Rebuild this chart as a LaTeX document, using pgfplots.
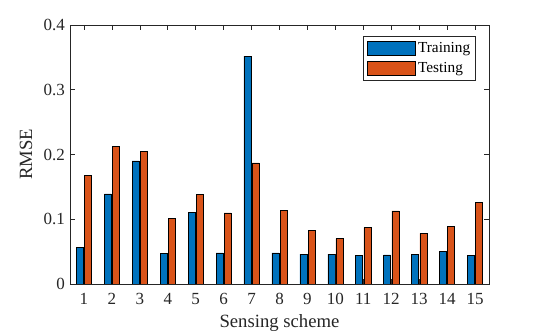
\documentclass[border=0pt]{standalone}
\usepackage{pgfplots}
\pgfplotsset{compat=1.18}
\usepackage{fontspec}
\setmainfont{Liberation Serif}

\definecolor{mblue}{rgb}{0,0.447,0.741}
\definecolor{morange}{rgb}{0.85,0.325,0.098}
\definecolor{axgray}{rgb}{0.15,0.15,0.15}

\pgfplotstableread{
scheme train  test
1   0.057  0.168
2   0.139  0.213
3   0.190  0.205
4   0.047  0.101
5   0.111  0.138
6   0.048  0.110
7   0.352  0.187
8   0.048  0.114
9   0.046  0.083
10  0.046  0.070
11  0.044  0.087
12  0.045  0.113
13  0.046  0.078
14  0.050  0.089
15  0.044  0.126
}\rmse

\begin{document}
\begin{tikzpicture}[x=1pt, y=1pt]
    \useasboundingbox (-70,-52) rectangle (470,284);
    \begin{axis}[
        at={(0,0)}, anchor=south west,
        scale only axis, width=419pt, height=259pt,
        xmin=0.5, xmax=15.5, ymin=0, ymax=0.4,
        ybar=1.2pt, bar width=7pt,
        xtick={1,...,15}, ytick={0,0.1,0.2,0.3,0.4},
        tick align=inside, major tick length=5pt,
        axis line style={draw=axgray, line width=0.6pt},
        tick style={draw=axgray, line width=0.6pt},
        /pgf/number format/assume math mode=true,
        tick label style={font=\fontsize{17}{20}\selectfont, text=axgray},
        xticklabel style={yshift=-6pt},
        yticklabel style={xshift=-1.5pt},
        xlabel={Sensing scheme}, ylabel={RMSE},
        label style={font=\fontsize{18.7}{22}\selectfont, text=axgray},
        xlabel style={at={(axis description cs:0.5,0)}, anchor=center,
            yshift=-39pt},
        ylabel style={at={([xshift=-44pt]axis description cs:0,0.5)},
            anchor=center},
        legend cell align=left,
        legend style={at={(0.969,0.9575)}, anchor=north east,
            draw=axgray, line width=0.6pt,
            font=\fontsize{15.3}{18}\selectfont,
            inner xsep=3pt, inner ysep=3.5pt, row sep=3.3pt,
            nodes={inner ysep=2.5pt, inner xsep=2.5pt}},
        leg/.style={legend image code/.code={
            \draw[##1, draw=black, line width=0.5pt]
                (0pt,-7pt) rectangle (48.5pt,7pt);}},
    ]
        \addplot[fill=mblue, draw=black, line width=0.5pt, leg]
            table[x=scheme, y=train] {\rmse};
        \addplot[fill=morange, draw=black, line width=0.5pt, leg]
            table[x=scheme, y=test] {\rmse};
        \legend{Training, Testing}
    \end{axis}
\end{tikzpicture}
\end{document}
